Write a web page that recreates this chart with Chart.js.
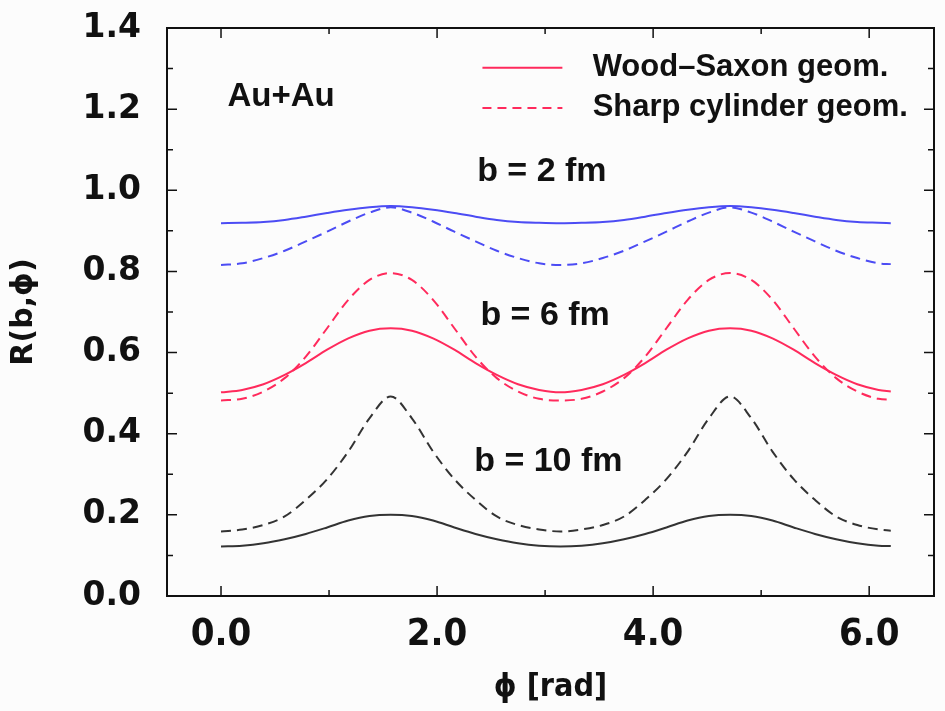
<!DOCTYPE html>
<html><head><meta charset="utf-8">
<script src="https://cdn.jsdelivr.net/npm/chart.js@4/dist/chart.umd.min.js"></script>
<style>html,body{margin:0;padding:0;background:#fcfcfc;} #wrap{width:945px;height:711px;}</style>
</head><body><div id="wrap"><canvas id="c" width="945" height="711"></canvas></div>
<script>
// azimuthal angle phi [rad]
const phi = [0, 0.196, 0.393, 0.589, 0.785, 0.982, 1.178, 1.374, 1.571, 1.767, 1.963, 2.160, 2.356, 2.553, 2.749, 2.945, 3.142, 3.338, 3.534, 3.731, 3.927, 4.123, 4.320, 4.516, 4.712, 4.909, 5.105, 5.301, 5.498, 5.694, 5.890, 6.087, 6.200];
// b = 2 fm
const wsB2 = [0.919,0.920,0.922,0.927,0.935,0.944,0.952,0.958,0.961, 0.958,0.952,0.944,0.935,0.927,0.922,0.920,0.919, 0.920,0.922,0.927,0.935,0.944,0.952,0.958,0.961, 0.958,0.952,0.944,0.935,0.927,0.922,0.920, 0.919];
const scB2 = [0.816,0.820,0.833,0.851,0.874,0.898,0.923,0.945,0.958, 0.945,0.923,0.898,0.874,0.851,0.833,0.820,0.816, 0.820,0.833,0.851,0.874,0.898,0.923,0.945,0.958, 0.945,0.923,0.898,0.874,0.851,0.833,0.820, 0.818];
// b = 6 fm
const wsB6 = [0.502,0.508,0.522,0.545,0.574,0.607,0.635,0.654,0.660, 0.654,0.635,0.607,0.574,0.545,0.522,0.508,0.502, 0.508,0.522,0.545,0.574,0.607,0.635,0.654,0.660, 0.654,0.635,0.607,0.574,0.545,0.522,0.508, 0.504];
const scB6 = [0.482,0.486,0.504,0.537,0.590,0.660,0.730,0.779,0.796, 0.779,0.730,0.660,0.590,0.537,0.504,0.486,0.482, 0.486,0.504,0.537,0.590,0.660,0.730,0.779,0.796, 0.779,0.730,0.660,0.590,0.537,0.504,0.486, 0.484];
// b = 10 fm
const wsB10 = [0.122,0.124,0.130,0.140,0.153,0.169,0.186,0.197,0.200, 0.197,0.186,0.169,0.153,0.140,0.130,0.124,0.122, 0.124,0.130,0.140,0.153,0.169,0.186,0.197,0.200, 0.197,0.186,0.169,0.153,0.140,0.130,0.124, 0.123];
const scB10 = [0.159,0.164,0.175,0.196,0.237,0.288,0.356,0.438,0.492, 0.438,0.356,0.288,0.237,0.196,0.175,0.164,0.159, 0.164,0.175,0.196,0.237,0.288,0.356,0.438,0.492, 0.438,0.356,0.288,0.237,0.196,0.175,0.164, 0.161];

const xMajorTicks = [0, 2, 4, 6];
const xMinorTicks = [1, 3, 5];
const yMajorTicks = [0, 0.2, 0.4, 0.6, 0.8, 1.0, 1.2, 1.4];
const yMinorTicks = [0.1, 0.3, 0.5, 0.7, 0.9, 1.1, 1.3];
const legendLabels = ['Wood\u2013Saxon geom.', 'Sharp cylinder geom.'];
const annotations = [
  {text: 'Au+Au', x: 0.06, y: 1.23, align: 'left'},
  {text: 'b = 2 fm', x: 2.97, y: 1.045, align: 'center'},
  {text: 'b = 6 fm', x: 3.0, y: 0.69, align: 'center'},
  {text: 'b = 10 fm', x: 3.03, y: 0.33, align: 'center'}
];

const BLUE = '#4c4cf4', RED = '#ff2a5c', BLACK = '#333333';
const pts = arr => phi.map((x, i) => ({x, y: arr[i]}));
const ds = (label, arr, color, dashed) => ({
  label, data: pts(arr), borderColor: color, borderWidth: 2,
  borderDash: dashed ? [10, 6] : [], pointRadius: 0, fill: false,
  cubicInterpolationMode: 'monotone'
});

const overlay = {
  id: 'overlay',
  beforeDraw(chart) {
    const c = chart.ctx; c.save(); c.fillStyle = '#fcfcfc';
    c.fillRect(0, 0, chart.width, chart.height); c.restore();
  },
  afterDraw(chart) {
    const c = chart.ctx, a = chart.chartArea, xs = chart.scales.x, ys = chart.scales.y;
    c.save();
    c.strokeStyle = '#111'; c.lineWidth = 2;
    c.strokeRect(a.left, a.top, a.right - a.left, a.bottom - a.top);
    c.lineWidth = 1.5;
    const xt = (vals, len) => vals.forEach(v => {
      const p = xs.getPixelForValue(v);
      c.beginPath(); c.moveTo(p, a.bottom); c.lineTo(p, a.bottom - len);
      c.moveTo(p, a.top); c.lineTo(p, a.top + len); c.stroke();
    });
    const yt = (vals, len) => vals.forEach(v => {
      const p = ys.getPixelForValue(v);
      c.beginPath(); c.moveTo(a.left, p); c.lineTo(a.left + len, p);
      c.moveTo(a.right, p); c.lineTo(a.right - len, p); c.stroke();
    });
    xt(xMajorTicks, 10); xt(xMinorTicks, 6); yt(yMajorTicks, 10); yt(yMinorTicks, 6);
    // annotations
    c.fillStyle = '#111'; c.textBaseline = 'middle';
    annotations.forEach(t => {
      c.font = 'bold ' + (t.text === 'Au+Au' ? 33 : 34) + 'px "Liberation Sans", Arial, sans-serif';
      c.textAlign = t.align;
      c.fillText(t.text, xs.getPixelForValue(t.x), ys.getPixelForValue(t.y));
    });
    // legend
    const lx0 = xs.getPixelForValue(2.42), lx1 = xs.getPixelForValue(3.16), tx = xs.getPixelForValue(3.44);
    const ly = [ys.getPixelForValue(1.302), ys.getPixelForValue(1.203)];
    c.strokeStyle = RED; c.lineWidth = 2;
    c.beginPath(); c.moveTo(lx0, ly[0]); c.lineTo(lx1, ly[0]); c.stroke();
    c.setLineDash([9, 6]);
    c.beginPath(); c.moveTo(lx0, ly[1]); c.lineTo(lx1, ly[1]); c.stroke();
    c.setLineDash([]);
    c.font = 'bold 31px "Liberation Sans", Arial, sans-serif'; c.textAlign = 'left';
    c.fillStyle = '#111';
    c.fillText(legendLabels[0], tx, ly[0]); c.fillText(legendLabels[1], tx, ly[1]);
    c.restore();
  }
};

new Chart(document.getElementById('c'), {
  type: 'line',
  data: { datasets: [
    ds('WS b=2', wsB2, BLUE, false), ds('SC b=2', scB2, BLUE, true),
    ds('WS b=6', wsB6, RED, false), ds('SC b=6', scB6, RED, true),
    ds('WS b=10', wsB10, BLACK, false), ds('SC b=10', scB10, BLACK, true)
  ]},
  options: {
    responsive: false, animation: false, devicePixelRatio: 1,
    layout: { padding: { top: 28, right: 11, left: 0, bottom: 0 } },
    plugins: { legend: { display: false }, tooltip: { enabled: false } },
    scales: {
      x: {
        type: 'linear', min: -0.5, max: 6.6,
        grid: { display: false, drawTicks: false }, border: { display: false },
        afterBuildTicks: s => { s.ticks = xMajorTicks.map(v => ({value: v})); },
        afterFit: s => { s.height = 115; s.paddingLeft = 0; s.paddingRight = 0; },
        ticks: { color: '#111', padding: 16, maxRotation: 0, autoSkip: false,
          font: { family: '"Liberation Sans Narrow", "DejaVu Sans Condensed", "Liberation Sans"', weight: 'bold', size: 38 },
          callback: v => Number(v).toFixed(1) },
        title: { display: true, text: '\u03d5 [rad]', color: '#111', padding: { top: 0, bottom: 4 },
          font: { family: '"Liberation Sans Narrow", "DejaVu Sans Condensed", "Liberation Sans"', weight: 'bold', size: 32 } }
      },
      y: {
        min: 0, max: 1.4,
        grid: { display: false, drawTicks: false }, border: { display: false },
        afterBuildTicks: s => { s.ticks = yMajorTicks.map(v => ({value: v})); },
        afterFit: s => { s.width = 167; s.paddingTop = 0; s.paddingBottom = 0; },
        ticks: { color: '#111', padding: 26, autoSkip: false,
          font: { family: '"DejaVu Sans", sans-serif', weight: 'bold', size: 33 },
          callback: v => Number(v).toFixed(1) },
        title: { display: true, text: 'R(b,\u03d5)', color: '#111', padding: { top: 6, bottom: 0 },
          font: { family: '"DejaVu Sans", sans-serif', weight: 'bold', size: 30 } }
      }
    }
  },
  plugins: [overlay]
});
</script></body></html>
